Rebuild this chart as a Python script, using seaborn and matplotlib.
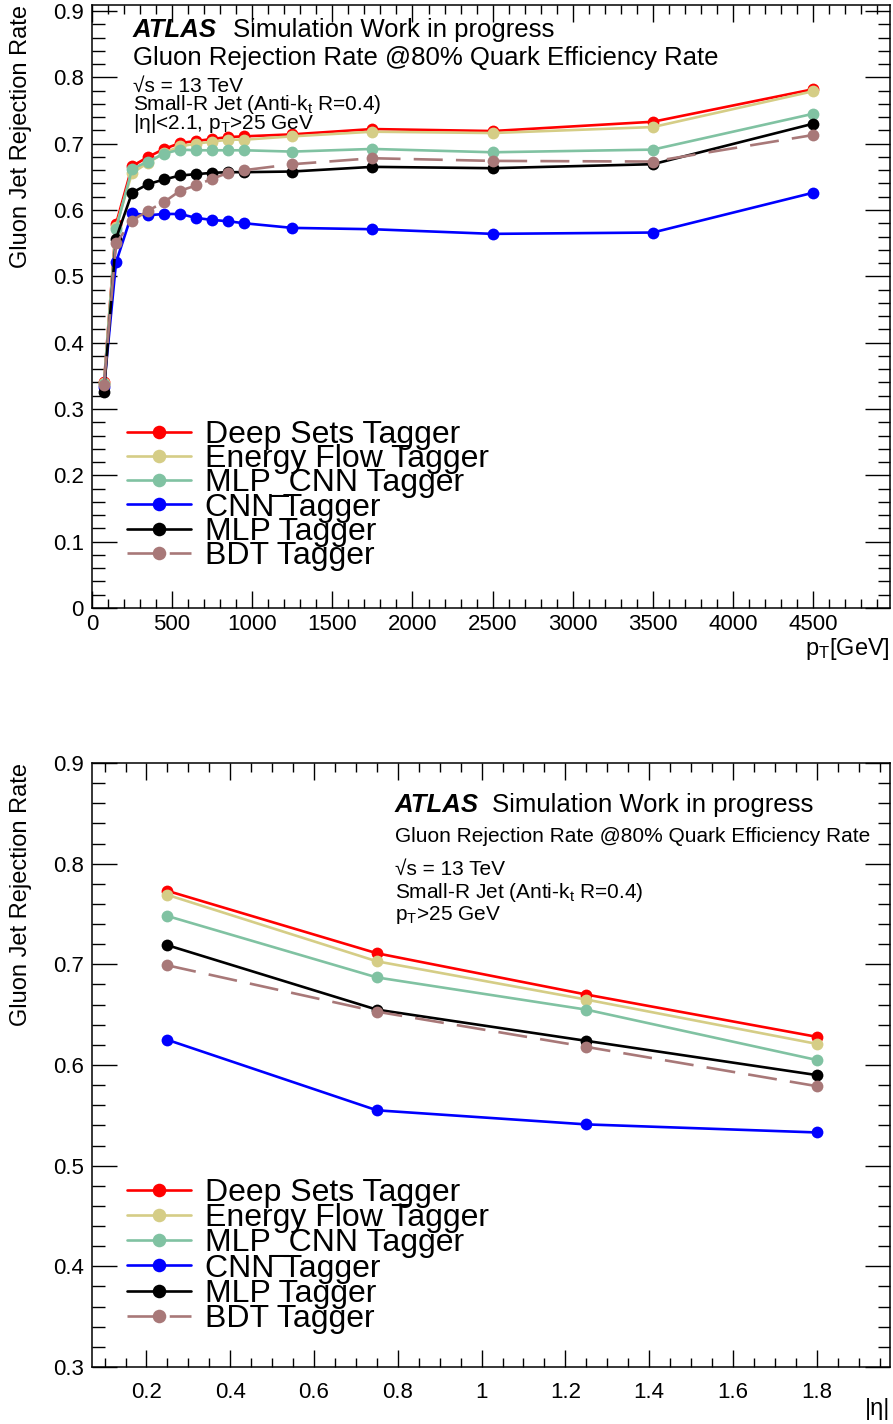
import numpy as np
import pandas as pd
import seaborn as sns
import matplotlib
matplotlib.use("Agg")
import matplotlib.pyplot as plt
from matplotlib.ticker import MultipleLocator, FuncFormatter

# ---------------- data ----------------
taggers = ["Deep Sets Tagger", "Energy Flow Tagger", "MLP_CNN Tagger",
           "CNN Tagger", "MLP Tagger", "BDT Tagger"]
colors = ["#ff0000", "#d5cd86", "#80c2a2", "#0000ff", "#000000", "#a87878"]

pt_centers = [75, 150, 250, 350, 450, 550, 650, 750, 850, 950, 1250, 1750, 2500, 3500, 4500]
deep_sets_pt = [0.340, 0.579, 0.666, 0.680, 0.692, 0.701, 0.704, 0.707, 0.710, 0.711, 0.714, 0.722, 0.719, 0.733, 0.782]
energy_flow_pt = [0.339, 0.575, 0.656, 0.671, 0.686, 0.696, 0.700, 0.703, 0.706, 0.706, 0.711, 0.718, 0.716, 0.725, 0.779]
mlp_cnn_pt = [0.338, 0.571, 0.662, 0.673, 0.685, 0.691, 0.690, 0.690, 0.690, 0.690, 0.688, 0.692, 0.687, 0.691, 0.745]
cnn_pt = [0.333, 0.521, 0.595, 0.592, 0.594, 0.594, 0.588, 0.585, 0.583, 0.580, 0.573, 0.571, 0.564, 0.566, 0.626]
mlp_pt = [0.326, 0.557, 0.626, 0.639, 0.646, 0.652, 0.654, 0.656, 0.657, 0.657, 0.658, 0.665, 0.663, 0.669, 0.730]
bdt_pt = [0.336, 0.550, 0.584, 0.599, 0.612, 0.629, 0.637, 0.647, 0.656, 0.660, 0.669, 0.678, 0.674, 0.673, 0.713]

eta_centers = [0.25, 0.75, 1.25, 1.8]
deep_sets_eta = [0.773, 0.711, 0.670, 0.628]
energy_flow_eta = [0.769, 0.703, 0.665, 0.621]
mlp_cnn_eta = [0.748, 0.687, 0.655, 0.605]
cnn_eta = [0.625, 0.555, 0.541, 0.533]
mlp_eta = [0.719, 0.655, 0.624, 0.590]
bdt_eta = [0.699, 0.653, 0.618, 0.579]

pt_series = [deep_sets_pt, energy_flow_pt, mlp_cnn_pt, cnn_pt, mlp_pt, bdt_pt]
eta_series = [deep_sets_eta, energy_flow_eta, mlp_cnn_eta, cnn_eta, mlp_eta, bdt_eta]

# ---------------- style ----------------
sns.set_style("ticks")
plt.rcParams["font.family"] = ["Liberation Sans", "DejaVu Sans"]
plt.rcParams["mathtext.fontset"] = "custom"
plt.rcParams["mathtext.rm"] = "Liberation Sans"
plt.rcParams["mathtext.it"] = "Liberation Sans:italic"
plt.rcParams["axes.linewidth"] = 1.1
for key in ["text.color", "axes.labelcolor", "xtick.color", "ytick.color",
            "axes.edgecolor", "xtick.labelcolor", "ytick.labelcolor"]:
    plt.rcParams[key] = "black"

W, H = 893, 1424
fig = plt.figure(figsize=(W / 100, H / 100), dpi=100)


def px_axes(left, top, right, bottom):
    return fig.add_axes([left / W, 1 - bottom / H, (right - left) / W, (bottom - top) / H])


def fx(x):
    return x / W


def fy(y):
    return 1 - y / H


fmt = FuncFormatter(lambda v, p: f"{v:g}")


def style_axes(ax, xmajor, xminor, ymajor, yminor, xpad):
    ax.xaxis.set_major_locator(MultipleLocator(xmajor))
    ax.xaxis.set_minor_locator(MultipleLocator(xminor))
    ax.yaxis.set_major_locator(MultipleLocator(ymajor))
    ax.yaxis.set_minor_locator(MultipleLocator(yminor))
    ax.xaxis.set_major_formatter(fmt)
    ax.yaxis.set_major_formatter(fmt)
    ax.tick_params(axis="both", which="both", direction="in", top=True, right=True,
                   labelsize=16, width=1.0, color="black", labelcolor="black")
    ax.tick_params(axis="x", which="major", length=12, pad=xpad)
    ax.tick_params(axis="x", which="minor", length=6.5)
    ax.tick_params(axis="y", which="major", length=18, pad=6)
    ax.tick_params(axis="y", which="minor", length=9)
    for s in ax.spines.values():
        s.set_color("black")


def draw_lines(ax, x, series):
    for name, vals, c in zip(taggers, series, colors):
        df = pd.DataFrame({"x": x, "y": vals})
        kw = dict(color=c, linewidth=1.9, marker="o", markersize=8.5,
                  markeredgewidth=0, label=name)
        if name == "BDT Tagger":
            kw["dashes"] = (11, 5)
        sns.lineplot(data=df, x="x", y="y", ax=ax, **kw)


def add_legend(ax, x_left, y_top, spacing):
    handles, labels = ax.get_legend_handles_labels()
    leg = ax.legend(handles, labels, loc="upper left",
                    bbox_to_anchor=(fx(x_left), fy(y_top)), bbox_transform=fig.transFigure,
                    frameon=False, fontsize=23, borderpad=0, borderaxespad=0,
                    handlelength=2.0, handletextpad=0.45, labelspacing=spacing,
                    markerscale=1.15)
    for t in leg.get_texts():
        t.set_color("black")


# ---------------- top: vs pT ----------------
ax1 = px_axes(92, 5, 890, 608)
draw_lines(ax1, pt_centers, pt_series)
ax1.set_xlim(0, 4980)
ax1.set_ylim(0, 0.909)
style_axes(ax1, 500, 100, 0.1, 0.02, xpad=4)
ax1.set_xlabel(r"p$_{\mathrm{T}}$[GeV]", fontsize=17, loc="right", labelpad=1)
ax1.set_ylabel("Gluon Jet Rejection Rate", fontsize=17, loc="top", labelpad=15)
add_legend(ax1, 127, 420, -0.181)

fig.text(fx(133), fy(37), "ATLAS", fontsize=18.5, fontweight="bold", fontstyle="italic")
fig.text(fx(233), fy(37), "Simulation Work in progress", fontsize=18.5)
fig.text(fx(133), fy(65), "Gluon Rejection Rate @80% Quark Efficiency Rate", fontsize=18.5)
fig.text(fx(133), fy(91.5), "\u221as = 13 TeV", fontsize=15)
fig.text(fx(133), fy(110), r"Small-R Jet (Anti-k$_{\mathrm{t}}$ R=0.4)", fontsize=15)
fig.text(fx(133), fy(129), r"|η|<2.1, p$_{\mathrm{T}}$>25 GeV", fontsize=15)

# ---------------- bottom: vs |eta| ----------------
ax2 = px_axes(92, 763, 890, 1367)
draw_lines(ax2, eta_centers, eta_series)
ax2.set_xlim(0.07, 1.975)
ax2.set_ylim(0.3, 0.9)
style_axes(ax2, 0.2, 0.05, 0.1, 0.02, xpad=11)
ax2.set_xlabel("|η|", fontsize=17, loc="right", labelpad=-4)
ax2.set_ylabel("Gluon Jet Rejection Rate", fontsize=17, loc="top", labelpad=15)
add_legend(ax2, 127, 1178, -0.15)

fig.text(fx(395), fy(812), "ATLAS", fontsize=18.5, fontweight="bold", fontstyle="italic")
fig.text(fx(492), fy(812), "Simulation Work in progress", fontsize=18.5)
fig.text(fx(395), fy(842), "Gluon Rejection Rate @80% Quark Efficiency Rate", fontsize=15)
fig.text(fx(395), fy(875), "\u221as = 13 TeV", fontsize=15)
fig.text(fx(395), fy(898), r"Small-R Jet (Anti-k$_{\mathrm{t}}$ R=0.4)", fontsize=15)
fig.text(fx(395), fy(920), r"p$_{\mathrm{T}}$>25 GeV", fontsize=15)

fig.savefig("out.png", dpi=100, facecolor="white")
